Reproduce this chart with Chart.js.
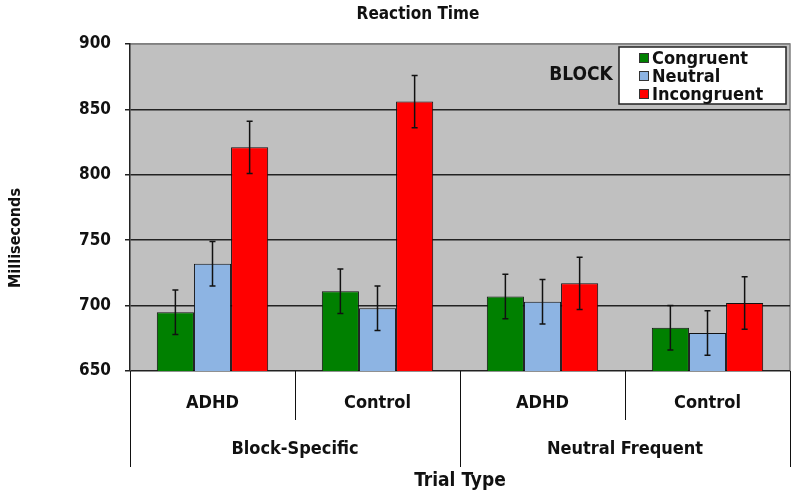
<!DOCTYPE html>
<html>
<head>
<meta charset="utf-8">
<script src="https://cdn.jsdelivr.net/npm/chart.js@4/dist/chart.umd.min.js"></script>
<style>
html,body{margin:0;padding:0;background:#fff;}
#wrap{width:800px;height:500px;position:relative;}
</style>
</head>
<body>
<div id="wrap"><canvas id="c" width="800" height="500"></canvas></div>
<script>
const chartTitle = "Reaction Time";
const yTitle = "Milliseconds";
const xTitle = "Trial Type";
const legendTitle = "BLOCK";
const categories = ["ADHD", "Control", "ADHD", "Control"];
const groups = ["Block-Specific", "Neutral Frequent"];
const seriesNames = ["Congruent", "Neutral", "Incongruent"];
const congruent = [695, 711, 707, 683];
const neutral = [732, 698, 703, 679];
const incongruent = [821, 856, 717, 702];
const congruentErr = [17, 17, 17, 17];
const neutralErr = [17, 17, 17, 17];
const incongruentErr = [20, 20, 20, 20];
const yTicks = [650, 700, 750, 800, 850, 900];

const colors = ["#008000", "#8db4e3", "#ff0000"];
const FONT = '"DejaVu Sans Condensed", "DejaVu Sans", sans-serif';

const errs = [congruentErr, neutralErr, incongruentErr];

const bgPlugin = {
  id: 'bg',
  beforeDraw(chart) {
    const {ctx, chartArea: a} = chart;
    ctx.save();
    ctx.fillStyle = '#c0c0c0';
    ctx.fillRect(a.left, a.top, a.right - a.left, a.bottom - a.top);
    ctx.strokeStyle = '#808080';
    ctx.lineWidth = 1.5;
    ctx.beginPath();
    ctx.moveTo(a.left, a.top); ctx.lineTo(a.right, a.top); ctx.lineTo(a.right, a.bottom);
    ctx.stroke();
    ctx.restore();
  }
};

const errPlugin = {
  id: 'errbars',
  afterDatasetsDraw(chart) {
    const {ctx} = chart;
    const ys = chart.scales.y;
    ctx.save();
    ctx.strokeStyle = '#111';
    ctx.lineWidth = 1.5;
    chart.data.datasets.forEach((ds, di) => {
      const meta = chart.getDatasetMeta(di);
      meta.data.forEach((bar, i) => {
        const v = ds.data[i], e = errs[di][i];
        const x = bar.x;
        const yt = ys.getPixelForValue(v + e), yb = ys.getPixelForValue(v - e);
        ctx.beginPath();
        ctx.moveTo(x, yt); ctx.lineTo(x, yb);
        ctx.moveTo(x - 3, yt); ctx.lineTo(x + 3, yt);
        ctx.moveTo(x - 3, yb); ctx.lineTo(x + 3, yb);
        ctx.stroke();
      });
    });
    ctx.restore();
  }
};

const decorPlugin = {
  id: 'decor',
  afterDraw(chart) {
    const {ctx, chartArea: a} = chart;
    const xs = chart.scales.x;
    ctx.save();
    ctx.fillStyle = '#111';
    ctx.textAlign = 'center';
    ctx.textBaseline = 'middle';
    // title
    ctx.font = 'bold 17px ' + FONT;
    ctx.fillText(chartTitle, 418, 15);
    // y title
    ctx.save();
    ctx.translate(16, 238);
    ctx.rotate(-Math.PI / 2);
    ctx.font = 'bold 16px ' + FONT;
    ctx.fillText(yTitle, 0, 0);
    ctx.restore();
    // x axis separators & labels
    const n = categories.length;
    const step = (a.right - a.left) / n;
    ctx.strokeStyle = '#111';
    ctx.lineWidth = 1;
    ctx.beginPath();
    for (let i = 0; i <= n; i++) {
      const x = Math.round(a.left + i * step) + 0.5;
      const outer = (i % 2 === 0);
      ctx.moveTo(x, a.bottom);
      ctx.lineTo(x, outer ? a.bottom + 96 : a.bottom + 49);
    }
    ctx.stroke();
    ctx.font = 'bold 18px ' + FONT;
    categories.forEach((c, i) => {
      ctx.fillText(c, xs.getPixelForValue(i), a.bottom + 32);
    });
    groups.forEach((g, gi) => {
      const x0 = a.left + gi * 2 * step;
      ctx.fillText(g, x0 + step, a.bottom + 78);
    });
    ctx.font = 'bold 19px ' + FONT;
    ctx.fillText(xTitle, (a.left + a.right) / 2, a.bottom + 110);
    // legend
    const lx = 619, ly = 47, lw = 167, lh = 57;
    ctx.fillStyle = '#fff';
    ctx.fillRect(lx, ly, lw, lh);
    ctx.strokeStyle = '#222';
    ctx.lineWidth = 1.5;
    ctx.strokeRect(lx, ly, lw, lh);
    ctx.textAlign = 'left';
    ctx.font = 'bold 18px ' + FONT;
    seriesNames.forEach((s, i) => {
      const cy = ly + 11 + i * 18;
      ctx.fillStyle = colors[i];
      ctx.fillRect(639, cy - 5, 10, 10);
      ctx.strokeStyle = '#333';
      ctx.lineWidth = 1;
      ctx.strokeRect(639.5, cy - 4.5, 9, 9);
      ctx.fillStyle = '#111';
      ctx.fillText(s, 652, cy + 1);
    });
    ctx.textAlign = 'center';
    ctx.font = 'bold 19px ' + FONT;
    ctx.fillText(legendTitle, 581, 75);
    ctx.restore();
  }
};

const datasets = [congruent, neutral, incongruent].map((d, i) => ({
  label: seriesNames[i],
  data: d,
  backgroundColor: colors[i],
  borderColor: '#111',
  borderWidth: 1,
  borderSkipped: 'bottom',
  barPercentage: 1.0,
  categoryPercentage: 0.675
}));

new Chart(document.getElementById('c'), {
  type: 'bar',
  data: {labels: categories, datasets},
  options: {
    responsive: false,
    animation: false,
    devicePixelRatio: 1,
    layout: {padding: {top: 44, right: 10, left: 0, bottom: 0}},
    plugins: {legend: {display: false}, tooltip: {enabled: false}, title: {display: false}},
    scales: {
      x: {
        grid: {display: false},
        border: {display: false},
        ticks: {display: false},
        afterFit(s) { s.height = 129; }
      },
      y: {
        min: 650, max: 900,
        afterBuildTicks(s) { s.ticks = yTicks.map(v => ({value: v})); },
        grid: {
          color: ctx => ctx.tick && ctx.tick.value === 900 ? '#808080' : '#222',
          lineWidth: 1.5,
          tickLength: 5,
          drawTicks: true,
          tickColor: '#222'
        },
        border: {display: true, color: '#222', width: 1.5},
        ticks: {
          color: '#111',
          font: {family: FONT, size: 17, weight: 'bold'},
          padding: 14
        },
        afterFit(s) { s.width = 130; }
      }
    }
  },
  plugins: [bgPlugin, errPlugin, decorPlugin]
});
</script>
</body>
</html>
